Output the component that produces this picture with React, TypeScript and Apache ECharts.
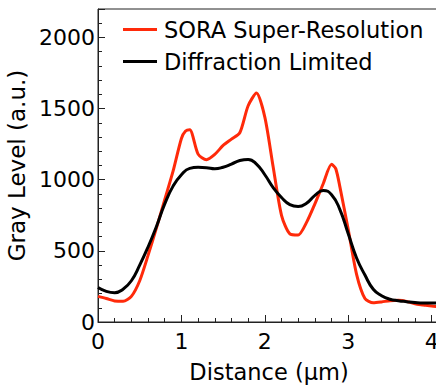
import React, { useEffect, useRef } from "react";
import * as echarts from "echarts";

const distance = [
  0.0, 0.1, 0.2, 0.3, 0.4, 0.5, 0.6, 0.7, 0.8, 0.9, 1.0, 1.05, 1.1, 1.2, 1.3, 1.4, 1.5, 1.6, 1.7, 1.8,
  1.9, 2.0, 2.1, 2.2, 2.3, 2.4, 2.5, 2.6, 2.7, 2.8, 2.85, 2.9, 3.0, 3.1, 3.2, 3.3, 3.4, 3.5, 3.6, 3.7,
  3.8, 3.9, 4.0, 4.1,
];
const soraValues = [
  180, 165, 148, 145, 180, 290, 468, 660, 860, 1060, 1290, 1342, 1351, 1180, 1141, 1178, 1241, 1285, 1330, 1520,
  1609, 1440, 1090, 750, 620, 612, 700, 830, 972, 1108, 1078, 950, 650, 335, 165, 135, 141, 150, 152, 145,
  128, 120, 112, 108,
];
const diffDistance = [
  0.0, 0.1, 0.2, 0.3, 0.4, 0.5, 0.6, 0.7, 0.8, 0.9, 1.0, 1.1, 1.2, 1.3, 1.4, 1.5, 1.6, 1.7, 1.8, 1.9,
  2.0, 2.1, 2.2, 2.3, 2.4, 2.5, 2.6, 2.7, 2.8, 2.9, 3.0, 3.1, 3.2, 3.3, 3.4, 3.5, 3.6, 3.7, 3.8, 3.9,
  4.0, 4.1,
];
const diffValues = [
  242, 215, 206, 230, 290, 400, 527, 670, 830, 955, 1035, 1080, 1087, 1085, 1077, 1088, 1110, 1135, 1143, 1110,
  1035, 945, 875, 825, 812, 835, 890, 925, 895, 790, 620, 450, 330, 230, 185, 160, 150, 143, 137, 134,
  134, 134,
];
const seriesNames = ["SORA Super-Resolution", "Diffraction Limited"];
const xAxisName = "Distance (\u00b5m)";
const yAxisName = "Gray Level (a.u.)";

const FONT = "DejaVu Sans";

export default function App() {
  const ref = useRef<HTMLDivElement>(null);
  useEffect(() => {
    if (!ref.current) return;
    const chart = echarts.init(ref.current, undefined, { renderer: "svg" });
    chart.setOption({
      animation: false,
      backgroundColor: "#fff",
      textStyle: { fontFamily: FONT },
      grid: {
        left: 98,
        right: -4,
        top: 9,
        bottom: 65,
        containLabel: false,
        outerBoundsMode: "none",
        show: true,
        borderColor: "#222",
        borderWidth: 1,
      },
      legend: {
        orient: "vertical",
        left: 123,
        top: 18,
        padding: 0,
        icon: "rect",
        itemWidth: 34,
        itemHeight: 3,
        itemGap: 9,
        textStyle: { fontFamily: FONT, fontSize: 22.5, color: "#000", padding: [0, 0, 0, 2] },
        data: seriesNames,
      },
      xAxis: {
        type: "value",
        min: 0,
        max: 4.1,
        interval: 1,
        name: xAxisName,
        nameLocation: "middle",
        nameGap: 38,
        nameTextStyle: { fontFamily: FONT, fontSize: 22.5, color: "#000" },
        axisLine: { show: true, onZero: false, lineStyle: { color: "#222", width: 1 } },
        axisTick: { show: true, inside: true, length: 7, lineStyle: { color: "#222", width: 1 } },
        minorTick: { show: true, splitNumber: 5, length: 4, lineStyle: { color: "#222", width: 1 } },
        axisLabel: {
          fontFamily: FONT,
          fontSize: 22,
          color: "#000",
          margin: 8,
          showMaxLabel: false,
          formatter: (v: number) => String(v),
        },
        splitLine: { show: false },
      },
      yAxis: {
        type: "value",
        min: 0,
        max: 2200,
        interval: 500,
        name: yAxisName,
        nameLocation: "middle",
        nameGap: 49,
        nameTextStyle: { fontFamily: FONT, fontSize: 23, color: "#000" },
        axisLine: { show: true, lineStyle: { color: "#222", width: 1 } },
        axisTick: { show: true, inside: true, length: 7, lineStyle: { color: "#222", width: 1 } },
        minorTick: { show: true, splitNumber: 5, length: 4, lineStyle: { color: "#222", width: 1 } },
        axisLabel: {
          fontFamily: FONT,
          fontSize: 22,
          color: "#000",
          margin: 3,
          showMaxLabel: false,
          formatter: (v: number) => String(v),
        },
        splitLine: { show: false },
      },
      series: [
        {
          name: seriesNames[0],
          type: "line",
          data: distance.map((d, i) => [d, soraValues[i]]),
          showSymbol: false,
          smooth: 0.25,
          lineStyle: { color: "#ff2a0a", width: 3 },
          itemStyle: { color: "#ff2a0a" },
          z: 2,
        },
        {
          name: seriesNames[1],
          type: "line",
          data: diffDistance.map((d, i) => [d, diffValues[i]]),
          showSymbol: false,
          smooth: 0.5,
          lineStyle: { color: "#000", width: 3 },
          itemStyle: { color: "#000" },
          z: 3,
        },
      ],
    });
    return () => chart.dispose();
  }, []);
  return (
    <div
      ref={ref}
      style={{ position: "fixed", left: 0, top: 0, width: 436, height: 387, background: "#fff" }}
    />
  );
}
